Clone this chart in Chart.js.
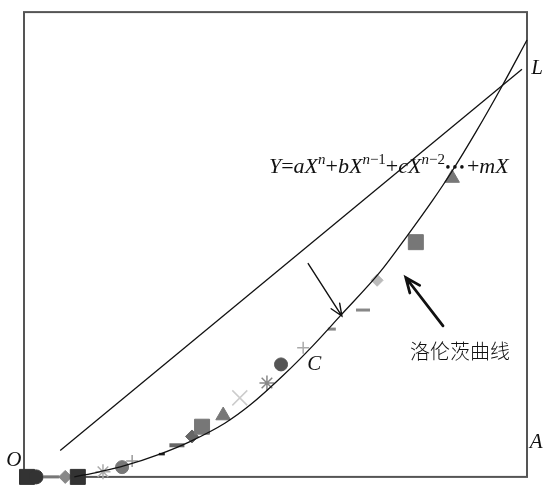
<!DOCTYPE html>
<html>
<head>
<meta charset="utf-8">
<script src="https://cdn.jsdelivr.net/npm/chart.js@4"></script>
<style>
  html, body { margin: 0; padding: 0; background: #fff; }
  #wrap { width: 543px; height: 489px; }
</style>
</head>
<body>
<div id="wrap"><canvas id="lorenz" width="543" height="489"></canvas></div>
<script>
// 洛伦茨曲线 (横纵轴都按 0-100)
const curveX = [10, 15, 20, 27, 33, 40, 45, 51.5, 57.5, 63, 70.8, 76, 81.3, 85, 90, 95, 100];
const curveY = [0, 1.1, 2.4, 4.9, 7.6, 11.6, 15.5, 21.8, 28.3, 34.8, 44.1, 51.6, 59.6, 65.6, 74.5, 84, 94];

// 绝对平均线 OL
const equalX = [7.2, 99.0];
const equalY = [5.7, 87.7];

// 散点
const markX = [0.6, 2.4, 5.4, 8.2, 10.7, 15.7, 19.5, 21.5, 27.4, 30.4, 33.4, 35.4, 39.6, 42.9, 48.3, 51.1, 55.5, 61.2, 67.4, 70.2, 77.9, 85.1];
const markY = [0, 0, 0, 0, 0, 1.1, 2.1, 3.4, 4.9, 6.8, 8.7, 10.8, 13.2, 17.0, 20.2, 24.2, 27.8, 31.8, 35.9, 42.3, 50.5, 64.3];
const markStyle = ["rect", "circle", "line", "rectRot", "rect", "star", "circle", "cross", "line", "line", "rectRot", "rect",
  "triangle", "crossRot", "star", "circle", "cross", "line", "line", "rectRot", "rect", "triangle"];
const markColor = ["#333", "#333", "#777", "#888", "#333", "#aaa", "#777", "#999", "#222", "#666", "#666", "#777",
  "#777", "#ccc", "#888", "#555", "#aaa", "#888", "#888", "#bbb", "#777", "#777"];
const markSize = [10.6, 7, 8, 6.5, 10.6, 7.5, 6.5, 6, 3, 7.5, 6.5, 10.6, 8.5, 10.6, 7.5, 6.5, 6, 4, 7, 6, 10.6, 8.5];
const markLine = [1, 1, 3, 1, 1, 1.5, 1, 1.5, 2.5, 4, 1, 1, 1, 1.5, 1.5, 1, 1.5, 3, 3, 1, 1, 1];

// 箭头 [起点x, 起点y, 终点x, 终点y]
const thinArrow = [56.5, 45.9, 63.2, 34.6];
const thickArrow = [83.3, 32.5, 75.9, 42.9];

const toPts = (xs, ys) => xs.map((x, i) => ({ x: x, y: ys[i] }));

function drawArrow(ctx, xs, ys, a, width, head) {
  const x1 = xs.getPixelForValue(a[0]), y1 = ys.getPixelForValue(a[1]);
  const x2 = xs.getPixelForValue(a[2]), y2 = ys.getPixelForValue(a[3]);
  const ang = Math.atan2(y2 - y1, x2 - x1);
  ctx.save();
  ctx.strokeStyle = "#111";
  ctx.lineWidth = width;
  ctx.lineCap = "round";
  ctx.beginPath();
  ctx.moveTo(x1, y1);
  ctx.lineTo(x2, y2);
  ctx.moveTo(x2 - head * Math.cos(ang - 0.4), y2 - head * Math.sin(ang - 0.4));
  ctx.lineTo(x2, y2);
  ctx.lineTo(x2 - head * Math.cos(ang + 0.4), y2 - head * Math.sin(ang + 0.4));
  ctx.stroke();
  ctx.restore();
}

// 公式: 片段 [文字, 斜体, 上标]
const formula = [["Y", 1, 0], ["=", 0, 0], ["a", 1, 0], ["X", 1, 0], ["n", 1, 1], ["+", 0, 0], ["b", 1, 0], ["X", 1, 0],
  ["n", 1, 1], ["\u22121", 0, 1], ["+", 0, 0], ["c", 1, 0], ["X", 1, 0], ["n", 1, 1], ["\u22122", 0, 1],
  ["...", 0, 0], ["+", 0, 0], ["m", 1, 0], ["X", 1, 0]];

const boxPlugin = {
  id: "box",
  beforeDatasetsDraw(chart) {
    const { ctx, chartArea: a } = chart;
    ctx.save();
    ctx.strokeStyle = "#555";
    ctx.lineWidth = 2;
    ctx.strokeRect(a.left, a.top, a.right - a.left, a.bottom - a.top);
    ctx.restore();
  },
  afterDatasetsDraw(chart) {
    const { ctx } = chart;
    const xs = chart.scales.x, ys = chart.scales.y;
    ctx.save();
    ctx.fillStyle = "#111";
    ctx.textBaseline = "middle";
    ctx.textAlign = "center";
    ctx.font = "italic 21px 'Liberation Serif', serif";
    ctx.fillText("O", xs.getPixelForValue(-2.0), ys.getPixelForValue(3.6));
    ctx.fillText("A", xs.getPixelForValue(101.8), ys.getPixelForValue(7.4));
    ctx.fillText("L", xs.getPixelForValue(102.0), ys.getPixelForValue(87.9));
    ctx.fillText("C", xs.getPixelForValue(57.7), ys.getPixelForValue(24.2));

    ctx.font = "300 20px 'Noto Sans CJK SC', sans-serif";
    ctx.fillText("洛伦茨曲线", xs.getPixelForValue(86.7), ys.getPixelForValue(27.0));

    // 公式
    ctx.textAlign = "left";
    ctx.textBaseline = "alphabetic";
    let px = xs.getPixelForValue(48.7);
    const base = ys.getPixelForValue(65.4);
    formula.forEach(f => {
      if (f[0] === "...") {
        for (let k = 0; k < 3; k++) {
          ctx.beginPath();
          ctx.arc(px + 3 + k * 7, base - 6, 1.8, 0, Math.PI * 2);
          ctx.fill();
        }
        px += 22;
        return;
      }
      const size = f[2] ? 15 : 22;
      ctx.font = (f[1] ? "italic " : "") + size + "px 'Liberation Serif', serif";
      ctx.fillText(f[0], px, f[2] ? base - 9 : base);
      px += ctx.measureText(f[0]).width;
    });
    ctx.restore();

    drawArrow(ctx, xs, ys, thinArrow, 1.4, 13);
    drawArrow(ctx, xs, ys, thickArrow, 2.8, 16);
  }
};

new Chart(document.getElementById("lorenz"), {
  type: "scatter",
  data: {
    datasets: [
      {
        data: toPts(curveX, curveY),
        showLine: true,
        cubicInterpolationMode: "monotone",
        borderColor: "#111",
        borderWidth: 1.3,
        pointRadius: 0,
        clip: false,
        order: 0
      },
      {
        data: toPts(equalX, equalY),
        showLine: true,
        borderColor: "#111",
        borderWidth: 1.3,
        pointRadius: 0,
        order: 1
      },
      {
        data: toPts(markX, markY),
        showLine: false,
        pointStyle: markStyle,
        pointRadius: markSize,
        pointBackgroundColor: markColor,
        pointBorderColor: markColor,
        pointBorderWidth: markLine,
        clip: false,
        order: 2
      }
    ]
  },
  options: {
    responsive: false,
    animation: false,
    layout: { padding: { left: 24, right: 16, top: 12, bottom: 6 } },
    scales: {
      x: { type: "linear", min: 0, max: 100, display: false },
      y: { type: "linear", min: 0, max: 100, display: false }
    },
    plugins: {
      legend: { display: false },
      tooltip: { enabled: false }
    }
  },
  plugins: [boxPlugin]
});
</script>
</body>
</html>
